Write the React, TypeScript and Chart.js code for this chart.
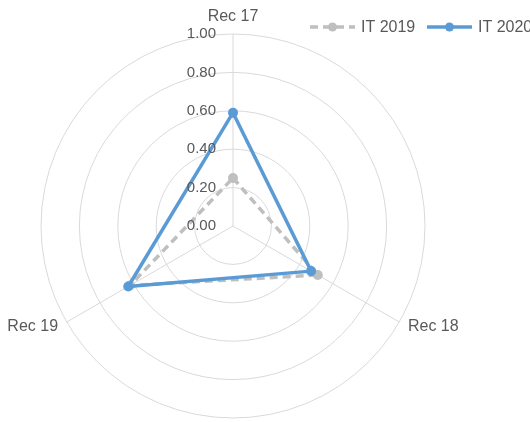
import React, { useEffect, useRef } from "react";
import { Chart, registerables } from "chart.js";

Chart.register(...registerables);

const categories = ["Rec 17", "Rec 18", "Rec 19"];
const it2019 = [0.25, 0.51, 0.62];
const it2020 = [0.59, 0.47, 0.63];
const tickValues = [0, 0.2, 0.4, 0.6, 0.8, 1.0];
const tickLabels = ["0.00", "0.20", "0.40", "0.60", "0.80", "1.00"];
const seriesNames = ["IT 2019", "IT 2020"];

const BLUE = "#5b9bd5";
const GRAY = "#bfbfbf";
const TEXT = "#595959";
const FONT = "Liberation Sans, Arial, sans-serif";

const labelsPlugin = {
  id: "customLabels",
  afterDraw(chart: any) {
    const ctx = chart.ctx;
    const scale = chart.scales.r;
    ctx.save();
    ctx.fillStyle = TEXT;
    // tick labels
    ctx.font = `15px ${FONT}`;
    ctx.textAlign = "right";
    ctx.textBaseline = "middle";
    tickValues.forEach((v, i) => {
      const d = scale.getDistanceFromCenterForValue(v);
      ctx.fillText(tickLabels[i], scale.xCenter - 17, scale.yCenter - d);
    });
    // point labels
    ctx.font = `16px ${FONT}`;
    categories.forEach((lab, i) => {
      const angle = scale.getIndexAngle(i);
      const s = Math.sin(angle);
      let pad = 10;
      if (Math.abs(s) < 0.1) {
        ctx.textAlign = "center";
        pad = 17;
      } else if (s > 0) {
        ctx.textAlign = "left";
      } else {
        ctx.textAlign = "right";
      }
      ctx.textBaseline = "middle";
      const p = scale.getPointPosition(i, scale.drawingArea + pad);
      ctx.fillText(lab, p.x, p.y);
    });
    // legend
    const items = [
      { name: seriesNames[0], color: GRAY, dash: [8, 5], x: 310 },
      { name: seriesNames[1], color: BLUE, dash: [], x: 427 },
    ];
    const ly = 27;
    items.forEach((it) => {
      ctx.save();
      ctx.strokeStyle = it.color;
      ctx.lineWidth = 3.5;
      ctx.setLineDash(it.dash);
      ctx.beginPath();
      ctx.moveTo(it.x, ly);
      ctx.lineTo(it.x + 45, ly);
      ctx.stroke();
      ctx.setLineDash([]);
      ctx.fillStyle = it.color;
      ctx.beginPath();
      ctx.arc(it.x + 22.5, ly, 4.5, 0, Math.PI * 2);
      ctx.fill();
      ctx.restore();
      ctx.fillStyle = TEXT;
      ctx.font = `16px ${FONT}`;
      ctx.textAlign = "left";
      ctx.textBaseline = "middle";
      ctx.fillText(it.name, it.x + 51, ly + 1);
    });
    ctx.restore();
  },
};

export default function App() {
  const ref = useRef<HTMLCanvasElement>(null);
  useEffect(() => {
    document.body.style.margin = "0";
    const chart = new Chart(ref.current as HTMLCanvasElement, {
      type: "radar",
      data: {
        labels: categories,
        datasets: [
          {
            label: seriesNames[0],
            data: it2019,
            borderColor: GRAY,
            backgroundColor: GRAY,
            pointBackgroundColor: GRAY,
            pointBorderColor: GRAY,
            pointBorderWidth: 0,
            borderWidth: 3.5,
            borderDash: [8, 5],
            borderJoinStyle: "round",
            pointRadius: 5,
            fill: false,
            order: 1,
          },
          {
            label: seriesNames[1],
            data: it2020,
            borderColor: BLUE,
            backgroundColor: BLUE,
            pointBackgroundColor: BLUE,
            pointBorderColor: BLUE,
            pointBorderWidth: 0,
            borderWidth: 3.5,
            borderJoinStyle: "round",
            pointRadius: 5,
            fill: false,
            order: 0,
          },
        ],
      },
      options: {
        responsive: false,
        animation: false,
        devicePixelRatio: 1,
        layout: { padding: { left: 41, right: 105, top: 34, bottom: 4 } },
        plugins: { legend: { display: false }, tooltip: { enabled: false } },
        scales: {
          r: {
            min: 0,
            max: 1,
            ticks: { stepSize: 0.2, display: false },
            pointLabels: { display: false },
            grid: { circular: true, color: "#d9d9d9", lineWidth: 1 },
            angleLines: { color: "#d9d9d9", lineWidth: 1 },
          },
        },
      },
      plugins: [labelsPlugin],
    } as any);
    return () => chart.destroy();
  }, []);
  return (
    <div style={{ position: "absolute", left: 0, top: 0, width: 530, height: 422, background: "#fff" }}>
      <canvas ref={ref} width={530} height={422} />
    </div>
  );
}
